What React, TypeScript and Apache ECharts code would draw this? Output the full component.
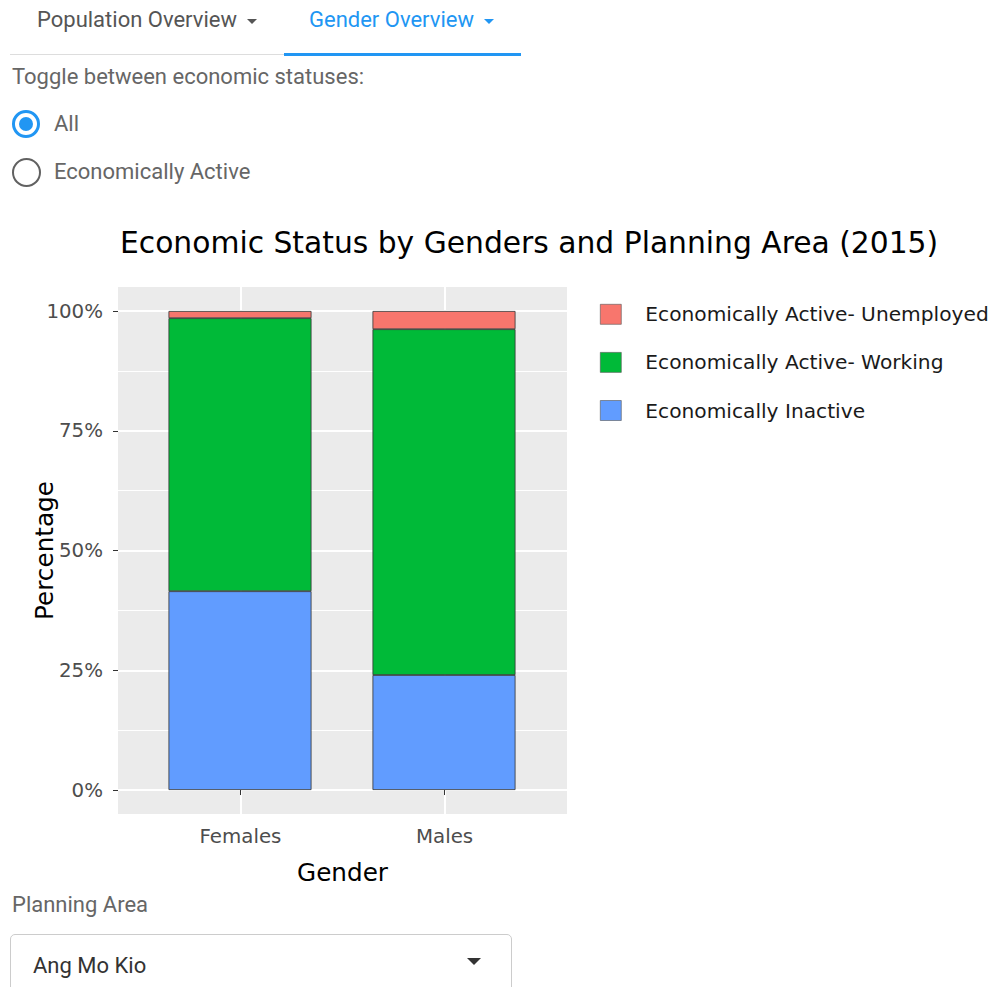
import React, { useEffect, useRef } from "react";
import * as echarts from "echarts";

const genders = ["Females", "Males"];
const inactive = [41.5, 24.0];
const working = [57.0, 72.2];
const unemployed = [1.5, 3.8];
const yTicks = [0, 25, 50, 75, 100];
const statusNames = [
  "Economically Active- Unemployed",
  "Economically Active- Working",
  "Economically Inactive",
];
const statusColors = ["#F8766D", "#00BA38", "#619CFF"];

const FONT = "'DejaVu Sans', sans-serif";
const UI = "Roboto, 'Noto Sans', sans-serif";

function Chart() {
  const ref = useRef<HTMLDivElement>(null);
  useEffect(() => {
    if (!ref.current) return;
    const chart = echarts.init(ref.current, undefined, { renderer: "svg" });
    const xs = genders.map((_, i) => i + 1);
    const mk = (name: string, vals: number[], color: string) => ({
      name,
      type: "bar",
      stack: "total",
      xAxisIndex: 2,
      yAxisIndex: 2,
      barWidth: 143,
      data: vals,
      itemStyle: { color, borderColor: "#333333", borderWidth: 0.8 },
      z: 3,
    });
    chart.setOption({
      animation: false,
      textStyle: { fontFamily: FONT },
      title: {
        text: "Economic Status by Genders and Planning Area (2015)",
        left: 115,
        top: 12,
        textStyle: { fontFamily: FONT, fontSize: 29.75, fontWeight: "normal", color: "#000" },
      },
      legend: {
        orient: "vertical",
        left: 600,
        top: 94,
        padding: 0,
        itemWidth: 21,
        itemHeight: 20,
        itemGap: 27.5,
        icon: "rect",
        data: statusNames,
        selectedMode: false,
        itemStyle: { borderColor: "#555555", borderWidth: 0.6 },
        textStyle: { fontFamily: FONT, fontSize: 20.2, color: "#1A1A1A", padding: [0, 0, 0, 19] },
      },
      grid: [
        {
          left: 118,
          top: 77,
          width: 449,
          height: 527,
          show: true,
          backgroundColor: "#EBEBEB",
          borderWidth: 0,
        },
        { left: 118, top: 101, width: 449, height: 479 },
        { left: 138, top: 101, width: 408, height: 479 },
      ],
      xAxis: [
        {
          gridIndex: 0,
          type: "value",
          min: 0.4,
          max: 2.6,
          name: "Gender",
          nameLocation: "middle",
          nameGap: 46,
          nameMoveOverlap: false,
          nameTextStyle: { fontFamily: FONT, fontSize: 24.7, color: "#000" },
          axisLine: { show: false },
          axisTick: { show: true, customValues: xs, length: 5, lineStyle: { color: "#333333" } },
          axisLabel: {
            customValues: xs,
            margin: 12,
            formatter: (v: number) => genders[Math.round(v) - 1] ?? "",
            fontFamily: FONT,
            fontSize: 19.8,
            color: "#4D4D4D",
          },
          splitLine: { show: true, lineStyle: { color: "#FFFFFF", width: 2 } },
        },
        { gridIndex: 1, type: "value", min: 0.4, max: 2.6, show: false },
        { gridIndex: 2, type: "category", data: genders, show: false },
      ],
      yAxis: [
        { gridIndex: 0, type: "value", min: -5, max: 105, show: false, splitLine: { show: false } },
        {
          gridIndex: 1,
          type: "value",
          min: 0,
          max: 100,
          interval: 25,
          name: "Percentage",
          nameLocation: "middle",
          nameGap: 61,
          nameMoveOverlap: false,
          nameTextStyle: { fontFamily: FONT, fontSize: 24.7, color: "#000" },
          axisLine: { show: false },
          axisTick: { show: true, length: 5, lineStyle: { color: "#333333" } },
          axisLabel: {
            customValues: yTicks,
            formatter: (v: number) => `${v}%`,
            margin: 15,
            fontFamily: FONT,
            fontSize: 19.8,
            color: "#4D4D4D",
          },
          splitLine: { show: true, lineStyle: { color: "#FFFFFF", width: 2 } },
          minorTick: { show: false, splitNumber: 2 },
          minorSplitLine: { show: true, lineStyle: { color: "#FFFFFF", width: 1 } },
        },
        { gridIndex: 2, type: "value", min: 0, max: 100, show: false, splitLine: { show: false } },
      ],
      series: [
        mk(statusNames[2], inactive, statusColors[2]),
        mk(statusNames[1], working, statusColors[1]),
        mk(statusNames[0], unemployed, statusColors[0]),
      ],
    });
    return () => chart.dispose();
  }, []);
  return (
    <div
      ref={ref}
      style={{ position: "absolute", left: 0, top: 210, width: 992, height: 680 }}
    />
  );
}

function Caret({ color }: { color: string }) {
  return (
    <span
      style={{
        display: "inline-block",
        width: 0,
        height: 0,
        borderLeft: "5px solid transparent",
        borderRight: "5px solid transparent",
        borderTop: `5px solid ${color}`,
        marginLeft: 10,
        verticalAlign: "middle",
      }}
    />
  );
}

export default function App() {
  const abs = (l: number, t: number): React.CSSProperties => ({
    position: "absolute",
    left: l,
    top: t,
    whiteSpace: "nowrap",
  });
  const txt: React.CSSProperties = { fontSize: 22, color: "#666666", lineHeight: "26px" };
  return (
    <div
      style={{
        position: "absolute",
        left: 0,
        top: 0,
        width: 992,
        height: 987,
        background: "#fff",
        overflow: "hidden",
        fontFamily: UI,
      }}
    >
      {/* tabs */}
      <div style={{ ...abs(37, 7), ...txt, color: "#555555" }}>
        Population Overview
        <Caret color="#555555" />
      </div>
      <div style={{ ...abs(309, 7), ...txt, color: "#2196F3" }}>
        Gender Overview
        <Caret color="#2196F3" />
      </div>
      <div style={{ position: "absolute", left: 10, top: 54, width: 274, height: 1, background: "#DDDDDD" }} />
      <div style={{ position: "absolute", left: 284, top: 53, width: 237, height: 3, background: "#2196F3" }} />

      <div style={{ ...abs(12, 64), ...txt }}>Toggle between economic statuses:</div>

      {/* radios */}
      <div
        style={{
          position: "absolute",
          left: 12,
          top: 110,
          width: 28,
          height: 28,
          borderRadius: "50%",
          border: "3px solid #2196F3",
          boxSizing: "border-box",
        }}
      >
        <div
          style={{
            position: "absolute",
            left: 4,
            top: 4,
            width: 14,
            height: 14,
            borderRadius: "50%",
            background: "#2196F3",
          }}
        />
      </div>
      <div style={{ ...abs(54, 111), ...txt }}>All</div>
      <div
        style={{
          position: "absolute",
          left: 12,
          top: 158,
          width: 29,
          height: 29,
          borderRadius: "50%",
          border: "2.5px solid #616161",
          boxSizing: "border-box",
        }}
      />
      <div style={{ ...abs(54, 159), ...txt }}>Economically Active</div>

      <Chart />

      {/* select */}
      <div style={{ ...abs(12, 892), ...txt }}>Planning Area</div>
      <div
        style={{
          position: "absolute",
          left: 10,
          top: 934,
          width: 502,
          height: 70,
          border: "1px solid #CCCCCC",
          borderRadius: 5,
          boxSizing: "border-box",
        }}
      />
      <div style={{ ...abs(33, 953), ...txt, color: "#333333" }}>Ang Mo Kio</div>
      <div
        style={{
          position: "absolute",
          left: 467,
          top: 958,
          width: 0,
          height: 0,
          borderLeft: "7px solid transparent",
          borderRight: "7px solid transparent",
          borderTop: "7px solid #333333",
        }}
      />
    </div>
  );
}
